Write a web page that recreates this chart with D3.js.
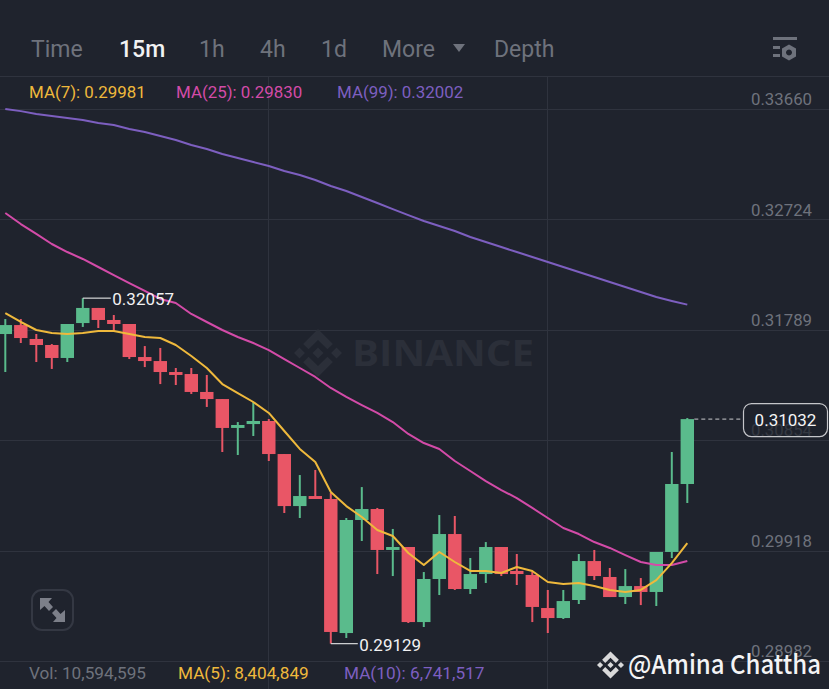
<!DOCTYPE html>
<html>
<head>
<meta charset="utf-8">
<script src="https://d3js.org/d3.v7.min.js"></script>
<style>
  html, body { margin: 0; padding: 0; background: #1f232d; overflow: hidden; }
  svg { display: block; font-family: Roboto, sans-serif; }
</style>
</head>
<body>
<svg width="829" height="689"></svg>
<script>
// candele 15m
const opens = [.31753,.31829,.31711,.31660,.31550,.31846,.31974,.31872,.31838,.31558,.31524,.31431,.31414,.31262,.31202,.30957,.30990,.31016,.30736,.30295,.30380,.30355,.29219,.30177,.30270,.29923,.29948,.29312,.29677,.30058,.29592,.29719,.29948,.29745,.29711,.29431,.29346,.29499,.29829,.29694,.29524,.29617,.29567,.29906,.30482];
const closes = [.31829,.31719,.31660,.31550,.31838,.31974,.31872,.31838,.31558,.31524,.31431,.31406,.31262,.31202,.30957,.30982,.31016,.30736,.30295,.30380,.30355,.29228,.30177,.30270,.29923,.29948,.29312,.29677,.30058,.29592,.29719,.29948,.29719,.29719,.29440,.29346,.29490,.29829,.29702,.29524,.29617,.29567,.29906,.30482,.31032];
const highs = [.31880,.31880,.31753,.31668,.31838,.32057,.31974,.31914,.31838,.31651,.31635,.31465,.31465,.31406,.31202,.31007,.31177,.31033,.30736,.30558,.30601,.30406,.30194,.30456,.30279,.30101,.29948,.29736,.30219,.30211,.29855,.29990,.29948,.29889,.29736,.29584,.29584,.29889,.29923,.29770,.29761,.29685,.29906,.30753,.31041];
const lows = [.31431,.31677,.31516,.31457,.31516,.31813,.31804,.31779,.31541,.31473,.31329,.31321,.31245,.31135,.30753,.30728,.30889,.30677,.30236,.30194,.30355,.29129,.29177,.29999,.29719,.29702,.29304,.29270,.29541,.29584,.29550,.29643,.29702,.29626,.29312,.29219,.29338,.29465,.29668,.29524,.29465,.29456,.29448,.29855,.30321];

// medie mobili
const ma7 = [.31931,.31855,.31787,.31762,.31753,.31762,.31779,.31779,.31753,.31728,.31719,.31660,.31567,.31465,.31329,.31253,.31177,.31084,.30931,.30779,.30668,.30414,.30295,.30202,.30092,.30041,.29897,.29795,.29906,.29821,.29745,.29745,.29728,.29779,.29745,.29651,.29634,.29643,.29617,.29584,.29567,.29584,.29668,.29812,.29981];
const ma25 = [.32779,.32685,.32601,.32516,.32448,.32389,.32321,.32253,.32185,.32118,.32050,.32016,.31923,.31855,.31787,.31728,.31677,.31617,.31541,.31465,.31389,.31296,.31220,.31151,.31084,.31007,.30906,.30829,.30779,.30677,.30592,.30507,.30431,.30363,.30279,.30194,.30109,.30058,.29990,.29940,.29880,.29821,.29795,.29795,.29830];
const ma99 = [.33660,.33642,.33617,.33601,.33584,.33567,.33541,.33524,.33490,.33465,.33431,.33397,.33355,.33321,.33279,.33245,.33211,.33177,.33135,.33101,.33058,.33007,.32965,.32914,.32863,.32812,.32761,.32711,.32668,.32626,.32575,.32533,.32490,.32448,.32406,.32363,.32321,.32279,.32236,.32194,.32151,.32109,.32067,.32033,.32002];

const priceTicks = [.33660,.32724,.31789,.30854,.29918,.28982];
const tabs = ["Time","15m","1h","4h","1d","More","Depth"];
const lastPrice = .31032, maxPrice = .32057, minPrice = .29129;

const svg = d3.select("svg");
const width = +svg.attr("width");
const height = +svg.attr("height");

const bg = "#1f232d", gridColor = "#2f333e", axisText = "#6e727c";
const green = "#5abb8c", red = "#e95666";
const yellow = "#efb93c", pink = "#d34ba8", purple = "#7d5fc0";

const xScale = d3.scaleLinear().domain([0, opens.length - 1]).range([5.3, 687.3]);
const yScale = d3.scaleLinear().domain([.33660, .28982]).range([109, 661]);

svg.append("rect").attr("width", width).attr("height", height).attr("fill", bg);

// griglia
svg.append("line").attr("x1", 0).attr("x2", width).attr("y1", 76.5).attr("y2", 76.5).attr("stroke", gridColor);
svg.selectAll(".hgrid").data(priceTicks).join("line")
  .attr("class", "hgrid")
  .attr("x1", 0).attr("x2", width)
  .attr("y1", d => Math.round(yScale(d)) + .5).attr("y2", d => Math.round(yScale(d)) + .5)
  .attr("stroke", gridColor);
svg.selectAll(".vgrid").data([268.5, 547.5]).join("line")
  .attr("class", "vgrid")
  .attr("x1", d => d).attr("x2", d => d)
  .attr("y1", 76).attr("y2", height)
  .attr("stroke", gridColor);

// logo binance
const logoPaths = [
  "M38.171 53.203l24.588-24.587 24.6 24.6 14.307-14.307L62.759 0 23.864 38.896z",
  "M0 62.759l14.307-14.307 14.307 14.307-14.307 14.307z",
  "M38.171 72.315L62.759 96.902l24.6-24.6 14.315 14.3-38.915 38.917-38.894-38.895z",
  "M96.902 62.759l14.307-14.307 14.307 14.307-14.307 14.307z",
  "M77.27 62.752L62.759 48.241 48.255 62.746l14.504 14.511z"
];
function drawLogo(cx, cy, size, color) {
  const k = size / 125.5;
  svg.append("g")
    .attr("transform", `translate(${cx - size / 2}, ${cy - size / 2}) scale(${k})`)
    .selectAll("path").data(logoPaths).join("path")
    .attr("d", d => d).attr("fill", color);
}

// watermark
drawLogo(318, 353, 48, "#2b2f39");
svg.append("text")
  .attr("x", 352).attr("y", 366)
  .attr("font-family", "'Open Sans'").attr("font-weight", 700).attr("font-size", 36)
  .attr("textLength", 182).attr("lengthAdjust", "spacingAndGlyphs")
  .attr("fill", "#2b2f39").text("BINANCE");

// asse dei prezzi
const yAxis = d3.axisLeft(yScale).tickValues(priceTicks).tickSize(0).tickPadding(0).tickFormat(d3.format(".5f"));
const axisGroup = svg.append("g").attr("transform", "translate(812, -9.5)").call(yAxis);
axisGroup.select(".domain").remove();
axisGroup.selectAll("text").attr("fill", axisText).attr("font-size", 16.8).attr("font-family", "Roboto");

// candele
const candles = opens.map((o, i) => ({ i, o, c: closes[i], h: highs[i], l: lows[i] }));
const candleW = 13.4;
const candleGroup = svg.selectAll(".candle").data(candles).join("g").attr("class", "candle");
candleGroup.append("line")
  .attr("x1", d => xScale(d.i)).attr("x2", d => xScale(d.i))
  .attr("y1", d => yScale(d.h)).attr("y2", d => yScale(d.l))
  .attr("stroke", d => d.c >= d.o ? green : red)
  .attr("stroke-width", 2);
candleGroup.append("rect")
  .attr("x", d => xScale(d.i) - candleW / 2)
  .attr("width", candleW)
  .attr("y", d => yScale(Math.max(d.o, d.c)))
  .attr("height", d => Math.abs(yScale(d.o) - yScale(d.c)))
  .attr("fill", d => d.c >= d.o ? green : red);

// linee MA
const line = d3.line().x((d, i) => xScale(i)).y(d => yScale(d));
[[ma99, purple], [ma25, pink], [ma7, yellow]].forEach(([values, color]) => {
  svg.append("path")
    .attr("d", line(values))
    .attr("fill", "none")
    .attr("stroke", color)
    .attr("stroke-width", 2)
    .attr("stroke-linejoin", "round");
});

// massimo e minimo
const iMax = highs.indexOf(maxPrice), iMin = lows.indexOf(minPrice);
[[iMax, maxPrice, 28], [iMin, minPrice, 27]].forEach(([i, price, len]) => {
  const x = xScale(i), y = yScale(price);
  svg.append("line").attr("x1", x).attr("x2", x + len).attr("y1", y).attr("y2", y)
    .attr("stroke", "#d7d8da").attr("stroke-width", 1.2);
  svg.append("text").attr("x", x + len + 1.5).attr("y", y + 7)
    .attr("font-size", 17).attr("fill", "#f2f2f3").text(d3.format(".5f")(price));
});

// prezzo corrente
const yLast = yScale(lastPrice);
svg.append("line")
  .attr("x1", xScale(opens.length - 1) + 7).attr("x2", 743)
  .attr("y1", yLast).attr("y2", yLast)
  .attr("stroke", "#c9cacd").attr("stroke-dasharray", "4 3");
svg.append("rect")
  .attr("x", 743.5).attr("y", yLast - 15.5).attr("width", 84).attr("height", 33).attr("rx", 8)
  .attr("fill", bg).attr("fill-opacity", .72)
  .attr("stroke", "#c4c5c9").attr("stroke-width", 1.2);
svg.append("text")
  .attr("x", 785.5).attr("y", yLast + 7).attr("text-anchor", "middle")
  .attr("font-size", 17).attr("fill", "#f4f4f5").text(d3.format(".5f")(lastPrice));

// barra superiore
const tabX = [31, 119, 199, 260, 321, 382, 494];
svg.selectAll(".tab").data(tabs).join("text")
  .attr("class", "tab")
  .attr("x", (d, i) => tabX[i]).attr("y", 57)
  .attr("font-size", 23)
  .attr("font-weight", d => d === "15m" ? 500 : 400)
  .attr("fill", d => d === "15m" ? "#f2f2f3" : "#6e727c")
  .text(d => d);
svg.append("path").attr("d", "M453 44H465L459 52Z").attr("fill", "#6e727c");

// icona impostazioni
const settings = svg.append("g").attr("fill", "#6e727c");
settings.append("rect").attr("x", 773).attr("y", 37).attr("width", 24).attr("height", 3);
settings.append("rect").attr("x", 773).attr("y", 46).attr("width", 7).attr("height", 3);
settings.append("rect").attr("x", 773).attr("y", 54).attr("width", 7).attr("height", 3);
settings.append("path").attr("fill-rule", "evenodd")
  .attr("d", "M789 44.5L796 48.5V56.5L789 60.5L782 56.5V48.5ZM789 49.5A3 3 0 1 0 789.01 49.5Z");

// legende
const maLegend = [["MA(7): 0.29981", 29, yellow], ["MA(25): 0.29830", 176, pink], ["MA(99): 0.32002", 337, purple]];
svg.selectAll(".ma-label").data(maLegend).join("text")
  .attr("class", "ma-label")
  .attr("x", d => d[1]).attr("y", 98).attr("font-size", 16.9)
  .attr("fill", d => d[2]).text(d => d[0]);

const volLegend = [["Vol: 10,594,595", 29, "#6e727c"], ["MA(5): 8,404,849", 178, yellow], ["MA(10): 6,741,517", 344, purple]];
svg.selectAll(".vol-label").data(volLegend).join("text")
  .attr("class", "vol-label")
  .attr("x", d => d[1]).attr("y", 679).attr("font-size", 17.2)
  .attr("fill", d => d[2]).text(d => d[0]);

// bottone espandi
svg.append("rect").attr("x", 32).attr("y", 590).attr("width", 41).attr("height", 40).attr("rx", 10)
  .attr("fill", "none").attr("stroke", "#343843").attr("stroke-width", 2);
svg.append("path").attr("fill", "#7c7f89")
  .attr("d", "M40 598H52L48.5 602L53 607L49 611L44.5 606L40 610Z M65 622H53L56.5 618L52 613L56 609L60.5 614L65 610Z");

// firma
drawLogo(610.5, 665, 27, "#d9d9da");
svg.append("text")
  .attr("x", 628).attr("y", 674)
  .attr("font-family", "'Noto Sans CJK SC'").attr("font-weight", 500).attr("font-size", 26)
  .attr("textLength", 193).attr("lengthAdjust", "spacingAndGlyphs")
  .attr("fill", "#f4f4f5").text("@Amina Chattha");
</script>
</body>
</html>
